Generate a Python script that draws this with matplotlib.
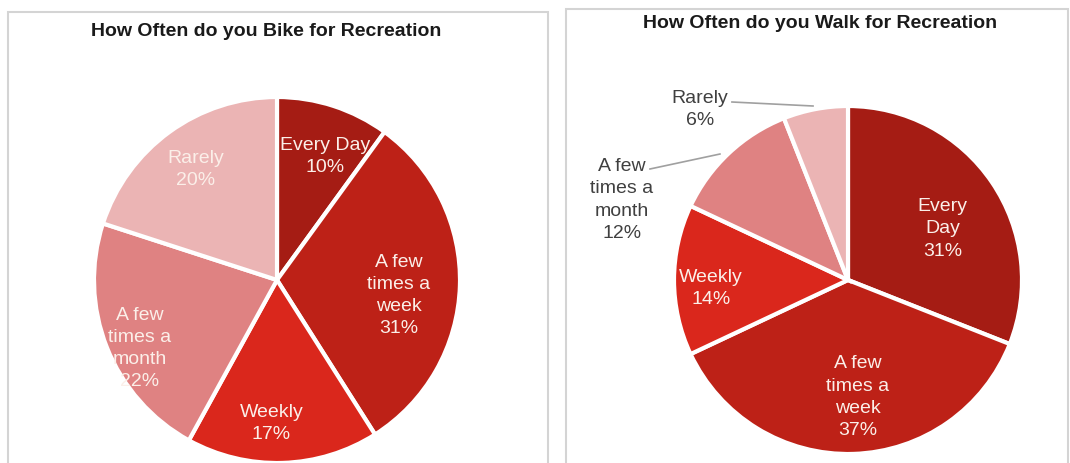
import numpy as np
import matplotlib.pyplot as plt
from matplotlib.patches import Rectangle

plt.rcParams['font.family'] = ['Liberation Sans', 'DejaVu Sans']

# Data
bike_labels = ["Every Day", "A few\ntimes a\nweek", "Weekly", "A few\ntimes a\nmonth", "Rarely"]
bike_values = [10, 31, 17, 22, 20]
walk_labels = ["Every\nDay", "A few\ntimes a\nweek", "Weekly", "A few\ntimes a\nmonth", "Rarely"]
walk_values = [31, 37, 14, 12, 6]
colors = ["#a51c14", "#bd2117", "#da271c", "#df8282", "#ebb4b4"]

W, H = 1070, 464
fig = plt.figure(figsize=(W / 100, H / 100), dpi=100)

# panel frames (run off the bottom edge like the reference)
for x0, y0, x1 in [(8, 13, 548), (566, 10, 1068)]:
    fig.patches.append(Rectangle((x0 / W, -0.05), (x1 - x0) / W, (H - y0) / H + 0.05,
                                 transform=fig.transFigure, fill=False,
                                 edgecolor="#d4d4d4", linewidth=1.5))

fig.text(266 / W, 1 - 31 / H, "How Often do you Bike for Recreation",
         ha="center", va="center", fontsize=14, fontweight="bold", color="#1a1a1a")
fig.text(820 / W, 1 - 24 / H, "How Often do you Walk for Recreation",
         ha="center", va="center", fontsize=14, fontweight="bold", color="#1a1a1a")


def make_axes(cx, cy, r):
    ax = fig.add_axes([(cx - r) / W, (H - cy - r) / H, 2 * r / W, 2 * r / H])
    ax.set_xlim(-1, 1)
    ax.set_ylim(-1, 1)
    ax.set_aspect("equal")
    ax.axis("off")
    return ax


txt_color = "#fbefe9"
lsp = 1.4

# Bike pie
ax1 = make_axes(277, 281, 183)
wedges, _ = ax1.pie(bike_values, colors=colors, startangle=90, counterclock=False,
                    radius=1, wedgeprops=dict(edgecolor="white", linewidth=3))
ax1.set_xlim(-1, 1)
ax1.set_ylim(-1, 1)
bike_dist = [0.73, 0.67, 0.78, 0.835, 0.755]
bike_shift = [-3, -5, -4, 4.6, 0]
for w, lab, v, d, s in zip(wedges, bike_labels, bike_values, bike_dist, bike_shift):
    ang = np.deg2rad((w.theta1 + w.theta2) / 2 + s)
    ax1.text(d * np.cos(ang), d * np.sin(ang), f"{lab}\n{v}%", ha="center", va="center",
             fontsize=14, color=txt_color, linespacing=lsp)

# Walk pie
ax2 = make_axes(848, 281, 174)
wedges, _ = ax2.pie(walk_values, colors=colors, startangle=90, counterclock=False,
                    radius=1, wedgeprops=dict(edgecolor="white", linewidth=3))
ax2.set_xlim(-1, 1)
ax2.set_ylim(-1, 1)
walk_dist = [0.62, 0.67, 0.79]
walk_shift = [-5.3, 3, 3]
for w, lab, v, d, s in zip(wedges[:3], walk_labels[:3], walk_values[:3], walk_dist, walk_shift):
    ang = np.deg2rad((w.theta1 + w.theta2) / 2 + s)
    ax2.text(d * np.cos(ang), d * np.sin(ang), f"{lab}\n{v}%", ha="center", va="center",
             fontsize=14, color=txt_color, linespacing=lsp)

# outside labels with leader lines
out_color = "#404040"
ax2.text(-1.30, 0.466, f"{walk_labels[3]}\n{walk_values[3]}%", ha="center", va="center",
         fontsize=14, color=out_color, linespacing=lsp, clip_on=False)
ax2.plot([-1.138, -0.736], [0.638, 0.724], color="#a0a0a0", lw=1.2, clip_on=False)
ax2.text(-0.85, 0.985, f"{walk_labels[4]}\n{walk_values[4]}%", ha="center", va="center",
         fontsize=14, color=out_color, linespacing=lsp, clip_on=False)
ax2.plot([-0.667, -0.201], [1.023, 1.0], color="#a0a0a0", lw=1.2, clip_on=False)

plt.savefig("out.png", dpi=100)
